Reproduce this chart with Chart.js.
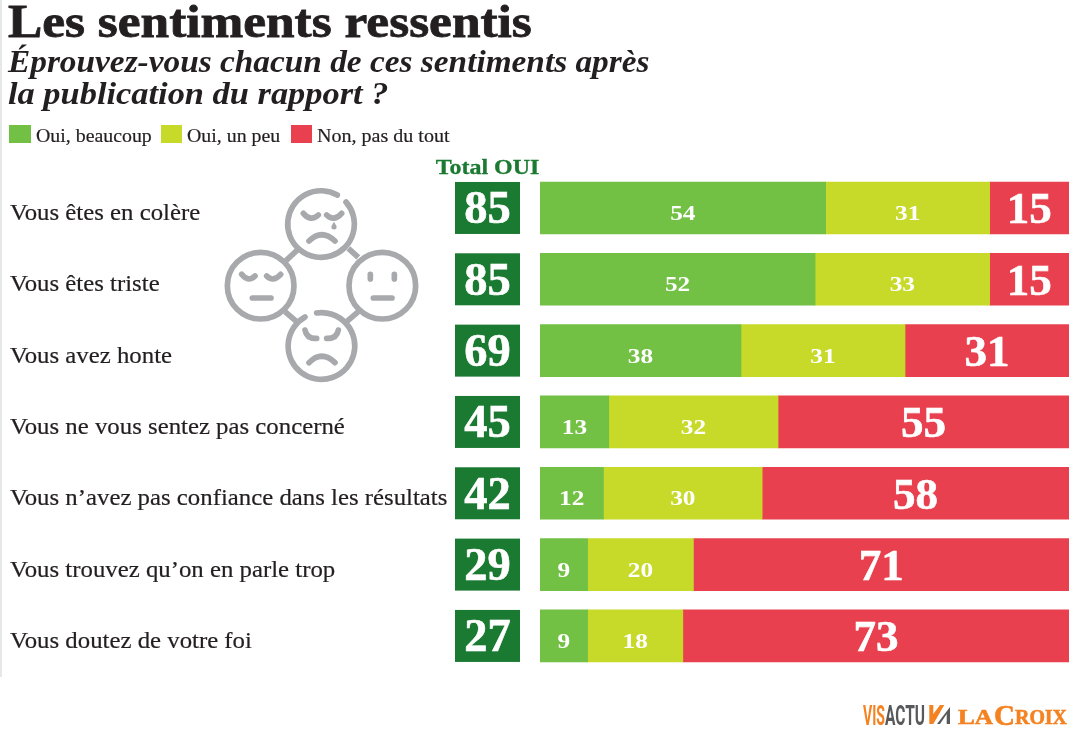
<!DOCTYPE html>
<html lang="fr">
<head>
<meta charset="utf-8">
<title>Les sentiments ressentis</title>
<script src="https://cdn.jsdelivr.net/npm/chart.js@4/dist/chart.umd.min.js"></script>
<style>
  html, body { margin: 0; padding: 0; background: #fff; }
  #wrap { position: relative; width: 1081px; height: 737px; overflow: hidden; }
  #sentChart { position: absolute; left: 0; top: 0; }
  #strip { position: absolute; left: 0; top: 0; width: 2px; height: 677px; background: #e6e7e8; }
  #icon, #logo { position: absolute; }
  #icon { left: 210px; top: 170px; }
  #logo { left: 840px; top: 690px; }
</style>
</head>
<body>
<div id="wrap">
  <canvas id="sentChart" width="1081" height="737"></canvas>
  <div id="strip"></div>
  <svg id="icon" width="230" height="220" viewBox="0 0 690 660" fill="none" stroke="#a7a9ac" stroke-width="17" stroke-linecap="round">
    <path d="M382 75A100 100 0 1 0 408 96"/>
    <circle cx="152" cy="347" r="100"/>
    <circle cx="517" cy="347" r="100"/>
    <path d="M320 429A100 100 0 1 1 285 441"/>
    <path d="M228 272L262 240M415 235L445 262M225 425L260 455M410 455L445 425" stroke-linecap="butt"/>
    <path d="M280 130Q302 156 325 135M350 135Q372 156 395 130M297 213Q335 175 375 213"/>
    <path d="M372 155L379 167A8 8 0 1 1 365 167Z" fill="#a7a9ac" stroke="none"/>
    <path d="M95 313Q115 338 135 318M170 318Q190 338 212 313M127 384H183"/>
    <path d="M481 313V327M553 313V327M490 384H546"/>
    <path d="M285 480Q290 507 320 505M385 480Q380 507 350 505M297 578Q335 540 375 578"/>
  </svg>
  <svg id="logo" width="241" height="47" viewBox="0 0 241 47">
    <text x="23" y="35" font-family="Roboto" font-weight="700" font-size="27" textLength="22" lengthAdjust="spacingAndGlyphs" fill="#f58220">VIS</text>
    <text x="45" y="35" font-family="Roboto" font-weight="700" font-size="27" textLength="40" lengthAdjust="spacingAndGlyphs" fill="#58595b">ACTU</text>
    <path d="M89.3 15H93.3V24L100 15H104.3L93.3 34H89.3Z" fill="#f58220"/>
    <path d="M110 17V34H106.7V24L100 34H97Z" fill="#58595b"/>
    <g font-family="Liberation Serif" font-weight="700" fill="#f58220" stroke="#f58220" stroke-width=".6">
      <text x="118" y="34" font-size="21" textLength="35" lengthAdjust="spacingAndGlyphs">LA</text>
      <text x="154" y="35" font-size="29" textLength="21" lengthAdjust="spacingAndGlyphs">C</text>
      <text x="175" y="34" font-size="21" textLength="52" lengthAdjust="spacingAndGlyphs">ROIX</text>
    </g>
  </svg>
</div>
<script>
const categories = [
  'Vous êtes en colère',
  'Vous êtes triste',
  'Vous avez honte',
  'Vous ne vous sentez pas concerné',
  'Vous n’avez pas confiance dans les résultats',
  'Vous trouvez qu’on en parle trop',
  'Vous doutez de votre foi'
];
const beaucoup = [54, 52, 38, 13, 12, 9, 9];
const unPeu = [31, 33, 31, 32, 30, 20, 18];
const pasDuTout = [15, 15, 31, 55, 58, 71, 73];
const totalOui = [85, 85, 69, 45, 42, 29, 27];

const SERIF = '"Liberation Serif", serif';
const GREEN = '#72c044', LIME = '#c7da29', RED = '#e8404e', DARK = '#1b7a32', INK = '#231f20';

// texte avec étirement horizontal (sx) et graisse ajoutée (bold), la police d'origine est plus large
function text(ctx, str, x, y, font, color, { align = 'left', sx = 1, bold = 0 } = {}) {
  ctx.save();
  ctx.translate(x, y);
  ctx.scale(sx, 1);
  ctx.font = font;
  ctx.fillStyle = color;
  ctx.textAlign = align;
  ctx.textBaseline = 'alphabetic';
  ctx.fillText(str, 0, 0);
  if (bold) {
    ctx.strokeStyle = color;
    ctx.lineWidth = bold;
    ctx.strokeText(str, 0, 0);
  }
  ctx.restore();
}

// titres, légende, libellés, colonne total et valeurs
const decor = {
  id: 'decor',
  afterDatasetsDraw(chart) {
    const ctx = chart.ctx, y = chart.scales.y;
    text(ctx, 'Les sentiments ressentis', 8, 37, 'bold 46px ' + SERIF, INK, { sx: 1.116, bold: 0.8 });
    text(ctx, 'Éprouvez-vous chacun de ces sentiments après', 8, 72, 'italic bold 31px ' + SERIF, INK, { sx: 1.075 });
    text(ctx, 'la publication du rapport ?', 8, 104, 'italic bold 31px ' + SERIF, INK, { sx: 1.11 });

    const legendX = [[9, 36, 22, 1.045], [161, 187, 21, 1.045], [291, 317, 21, 1.055]];
    chart.data.datasets.forEach((ds, i) => {
      const [box, label, w, sx] = legendX[i];
      ctx.fillStyle = ds.backgroundColor;
      ctx.fillRect(box, 125, w, 18);
      text(ctx, ds.label, label, 142, '19px ' + SERIF, INK, { sx, bold: 0.2 });
    });

    text(ctx, 'Total OUI', 487.5, 174, 'bold 22px ' + SERIF, DARK, { align: 'center', sx: 1.09, bold: 0.3 });

    categories.forEach((c, i) => {
      const py = y.getPixelForValue(i);
      text(ctx, c, 10, py + 12, '23.5px ' + SERIF, INK, { sx: 1.055, bold: 0.2 });
      ctx.fillStyle = DARK;
      ctx.fillRect(455, py - 26, 65, 52);
      text(ctx, String(totalOui[i]), 487.5, py + 15.5, 'bold 46.5px ' + SERIF, '#fff', { align: 'center', bold: 0.6 });
    });

    chart.data.datasets.forEach((ds, d) => {
      chart.getDatasetMeta(d).data.forEach((bar, i) => {
        const mid = (bar.x + bar.base) / 2, val = String(ds.data[i]);
        if (d === 2) text(ctx, val, mid, bar.y + 15.5, 'bold 45px ' + SERIF, '#fff', { align: 'center', bold: 0.6 });
        else text(ctx, val, mid, bar.y + 12, 'bold 22px ' + SERIF, '#fff', { align: 'center', sx: 1.15 });
      });
    });
  }
};

new Chart(document.getElementById('sentChart'), {
  type: 'bar',
  data: {
    labels: categories,
    datasets: [
      { label: 'Oui, beaucoup', data: beaucoup, backgroundColor: GREEN },
      { label: 'Oui, un peu', data: unPeu, backgroundColor: LIME },
      { label: 'Non, pas du tout', data: pasDuTout, backgroundColor: RED }
    ]
  },
  options: {
    indexAxis: 'y',
    responsive: false,
    animation: false,
    layout: { padding: { left: 540, right: 12, top: 172.3, bottom: 65.4 } },
    datasets: { bar: { barThickness: 52, borderWidth: 0 } },
    plugins: { legend: { display: false }, tooltip: { enabled: false } },
    scales: {
      x: { stacked: true, min: 0, max: 100, display: false },
      y: { stacked: true, display: false }
    }
  },
  plugins: [decor]
});
</script>
</body>
</html>
